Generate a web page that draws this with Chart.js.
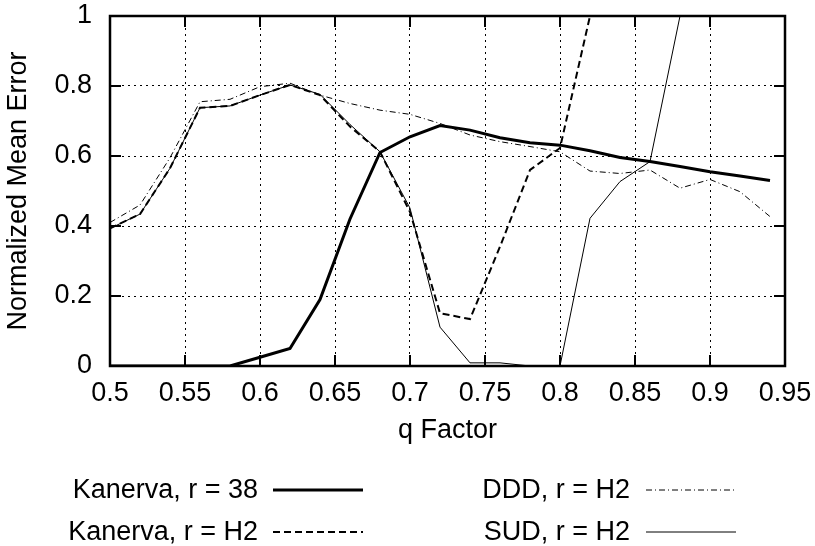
<!DOCTYPE html>
<html>
<head>
<meta charset="utf-8">
<script src="https://cdn.jsdelivr.net/npm/chart.js@4.4.1/dist/chart.umd.min.js"></script>
<style>
  body { margin: 0; background: #fff; }
  #wrap { width: 815px; height: 546px; }
</style>
</head>
<body>
<div id="wrap"><canvas id="errChart" width="815" height="546"></canvas></div>
<script>
// q factor sample points
const qFactor = [0.5, 0.52, 0.54, 0.56, 0.58, 0.6, 0.62, 0.64, 0.66, 0.68, 0.7, 0.72,
  0.74, 0.76, 0.78, 0.8, 0.82, 0.84, 0.86, 0.88, 0.9, 0.92, 0.94];

const kanerva38 = [0, 0, 0, 0, 0, 0.025, 0.05, 0.19, 0.42, 0.61, 0.655, 0.687,
  0.674, 0.652, 0.638, 0.631, 0.615, 0.596, 0.584, 0.57, 0.555, 0.543, 0.53];
const kanervaH2 = [0.393, 0.434, 0.565, 0.738, 0.743, 0.774, 0.803, 0.774, 0.684, 0.612, 0.44, 0.151,
  0.134, 0.341, 0.56, 0.623, 1, 1, 1, 1, 1, 1, 1];
const dddH2 = [0.41, 0.46, 0.595, 0.755, 0.762, 0.798, 0.808, 0.774, 0.75, 0.731, 0.719, 0.693,
  0.66, 0.641, 0.627, 0.612, 0.557, 0.55, 0.56, 0.508, 0.533, 0.498, 0.427];
const sudH2 = [0.393, 0.434, 0.565, 0.738, 0.743, 0.774, 0.803, 0.776, 0.69, 0.612, 0.451, 0.111,
  0.009, 0.009, 0, 0, 0.422, 0.527, 0.584, 1, 1, 1, 1];

const seriesLabels = ['Kanerva, r = 38', 'Kanerva, r = H2', 'DDD, r = H2', 'SUD, r = H2'];
const xTicks = [0.5, 0.55, 0.6, 0.65, 0.7, 0.75, 0.8, 0.85, 0.9, 0.95];
const yTicks = [0, 0.2, 0.4, 0.6, 0.8, 1];

const FONT = "'Liberation Sans', Arial, sans-serif";
const FSIZE = 27;

function pts(ys) {
  return qFactor.map((q, i) => ({x: q, y: ys[i]}));
}

// gnuplot-like frame, inward ticks and key below the plot
const framePlugin = {
  id: 'frame',
  afterDraw(chart) {
    const ctx = chart.ctx;
    const a = chart.chartArea;
    const xs = chart.scales.x, ys = chart.scales.y;
    ctx.save();
    ctx.strokeStyle = '#000';
    ctx.lineWidth = 2;
    ctx.beginPath();
    xTicks.forEach(v => {
      const p = Math.round(xs.getPixelForValue(v));
      ctx.moveTo(p, a.bottom); ctx.lineTo(p, a.bottom - 11);
      ctx.moveTo(p, a.top); ctx.lineTo(p, a.top + 11);
    });
    yTicks.forEach(v => {
      const p = Math.round(ys.getPixelForValue(v));
      ctx.moveTo(a.left, p); ctx.lineTo(a.left + 11, p);
      ctx.moveTo(a.right, p); ctx.lineTo(a.right - 11, p);
    });
    ctx.stroke();
    ctx.lineWidth = 2.5;
    ctx.strokeRect(a.left, a.top, a.right - a.left, a.bottom - a.top);

    // key
    const textRight = [258, 630];
    const lineX = [[273, 363], [646, 736]];
    const baseY = [498, 540];
    ctx.font = FSIZE + 'px ' + FONT;
    ctx.fillStyle = '#000';
    ctx.textAlign = 'right';
    ctx.textBaseline = 'alphabetic';
    chart.data.datasets.forEach((ds, i) => {
      const col = Math.floor(i / 2), row = i % 2;
      ctx.fillText(ds.label, textRight[col], baseY[row]);
      ctx.lineWidth = ds.borderWidth;
      ctx.setLineDash(ds.borderDash || []);
      ctx.beginPath();
      const ly = baseY[row] - 8;
      ctx.moveTo(lineX[col][0], ly);
      ctx.lineTo(lineX[col][1], ly);
      ctx.stroke();
    });
    ctx.restore();
  }
};

const datasets = [
  {label: seriesLabels[0], data: pts(kanerva38), borderWidth: 3, borderDash: []},
  {label: seriesLabels[1], data: pts(kanervaH2), borderWidth: 2, borderDash: [7, 4]},
  {label: seriesLabels[2], data: pts(dddH2), borderWidth: 1, borderDash: [6, 3, 1, 3]},
  {label: seriesLabels[3], data: pts(sudH2), borderWidth: 1, borderDash: []}
].map(d => Object.assign(d, {
  borderColor: '#000', backgroundColor: '#000', pointRadius: 0, tension: 0, fill: false
}));

const canvas = document.getElementById('errChart');
const chart = new Chart(canvas, {
  type: 'line',
  data: {datasets: datasets},
  options: {
    responsive: false,
    animation: false,
    layout: {padding: {top: 16, right: 30, bottom: 90, left: 0}},
    plugins: {legend: {display: false}, tooltip: {enabled: false}},
    scales: {
      x: {
        type: 'linear',
        min: 0.5,
        max: 0.95,
        afterBuildTicks: s => { s.ticks = xTicks.map(v => ({value: v})); },
        afterFit: s => { s.height = 90; s.paddingLeft = 0; s.paddingRight = 0; },
        ticks: {
          autoSkip: false, maxRotation: 0, padding: 11, color: '#000',
          font: {family: FONT, size: FSIZE},
          callback: v => String(v)
        },
        grid: {color: '#000', lineWidth: 1, drawTicks: false},
        border: {display: false, dash: [2, 4]},
        title: {
          display: true, text: 'q Factor', color: '#000',
          font: {family: FONT, size: FSIZE}, padding: {top: 0, bottom: 9}
        }
      },
      y: {
        min: 0,
        max: 1,
        afterBuildTicks: s => { s.ticks = yTicks.map(v => ({value: v})); },
        afterFit: s => { s.width = 110; s.paddingTop = 0; s.paddingBottom = 0; },
        ticks: {
          padding: 18, color: '#000',
          font: {family: FONT, size: FSIZE},
          callback: v => String(v)
        },
        grid: {color: '#000', lineWidth: 1, drawTicks: false},
        border: {display: false, dash: [2, 4]},
        title: {
          display: true, text: 'Normalized Mean Error', color: '#000',
          font: {family: FONT, size: FSIZE}, padding: {top: 2, bottom: 0}
        }
      }
    }
  },
  plugins: [framePlugin]
});
</script>
</body>
</html>
